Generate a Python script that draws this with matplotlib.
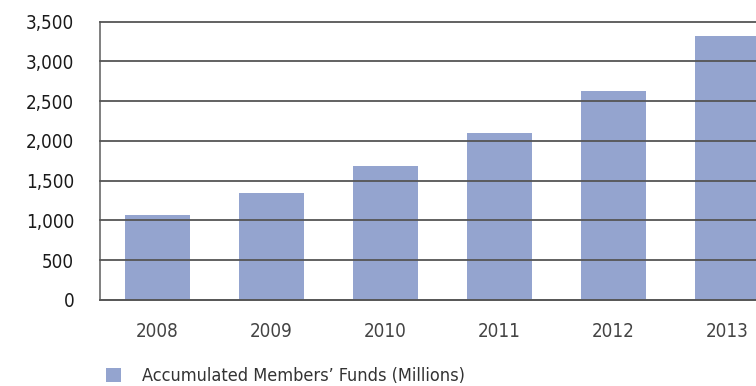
import matplotlib
matplotlib.use('Agg')
import matplotlib.pyplot as plt
from matplotlib.patches import Patch
from matplotlib.ticker import FuncFormatter

plt.rcParams['font.family'] = ['DejaVu Sans']
plt.rcParams['font.stretch'] = 'condensed'

#############################################
# DATA
#############################################

years = ['2008', '2009', '2010', '2011', '2012', '2013']
funds = [1075, 1340, 1685, 2095, 2630, 3325]
y_ticks = [0, 500, 1000, 1500, 2000, 2500, 3000, 3500]
legend_label = 'Accumulated Members\u2019 Funds (Millions)'

bar_color = '#94a4cf'
grid_color = '#555555'

#############################################
# PLOT
#############################################

fig = plt.figure(figsize=(7.56, 3.86), dpi=100)
ax = fig.add_axes([0.1323, 0.2228, 0.9048, 0.721])

x = range(len(years))
ax.bar(x, funds, width=0.57, color=bar_color, zorder=1)

ax.set_xlim(-0.5, len(years) - 0.5)
ax.set_ylim(0, 3500)
ax.set_yticks(y_ticks)
ax.yaxis.set_major_formatter(FuncFormatter(lambda v, p: f'{int(v):,}'))
ax.set_xticks(list(x))
ax.set_xticklabels(years)

# gridlines sit over the bars, the top one must not be clipped
ax.set_axisbelow(False)
ax.grid(axis='y', color=grid_color, linewidth=1.3)
ax.grid(axis='x', visible=False)
for line in ax.get_ygridlines():
    line.set_clip_on(False)

for side in ['top', 'right']:
    ax.spines[side].set_visible(False)
ax.spines['left'].set_color('#6a6a6a')
ax.spines['bottom'].set_color('#6a6a6a')
ax.spines['left'].set_linewidth(1.2)
ax.spines['bottom'].set_linewidth(1.2)

ax.tick_params(axis='y', length=0, pad=18.5, labelsize=13.5, labelcolor='#1a1a1a')
ax.tick_params(axis='x', length=0, pad=16, labelsize=13.5, labelcolor='#444444')

handle = Patch(facecolor=bar_color, edgecolor='none', label=legend_label)
fig.legend(handles=[handle], loc='center left', bbox_to_anchor=(0.140, 0.026),
           frameon=False, fontsize=13, handlelength=0.85, handleheight=0.85,
           handletextpad=1.15, borderpad=0, borderaxespad=0, labelcolor='#333333')

fig.savefig('out.png', dpi=100)
